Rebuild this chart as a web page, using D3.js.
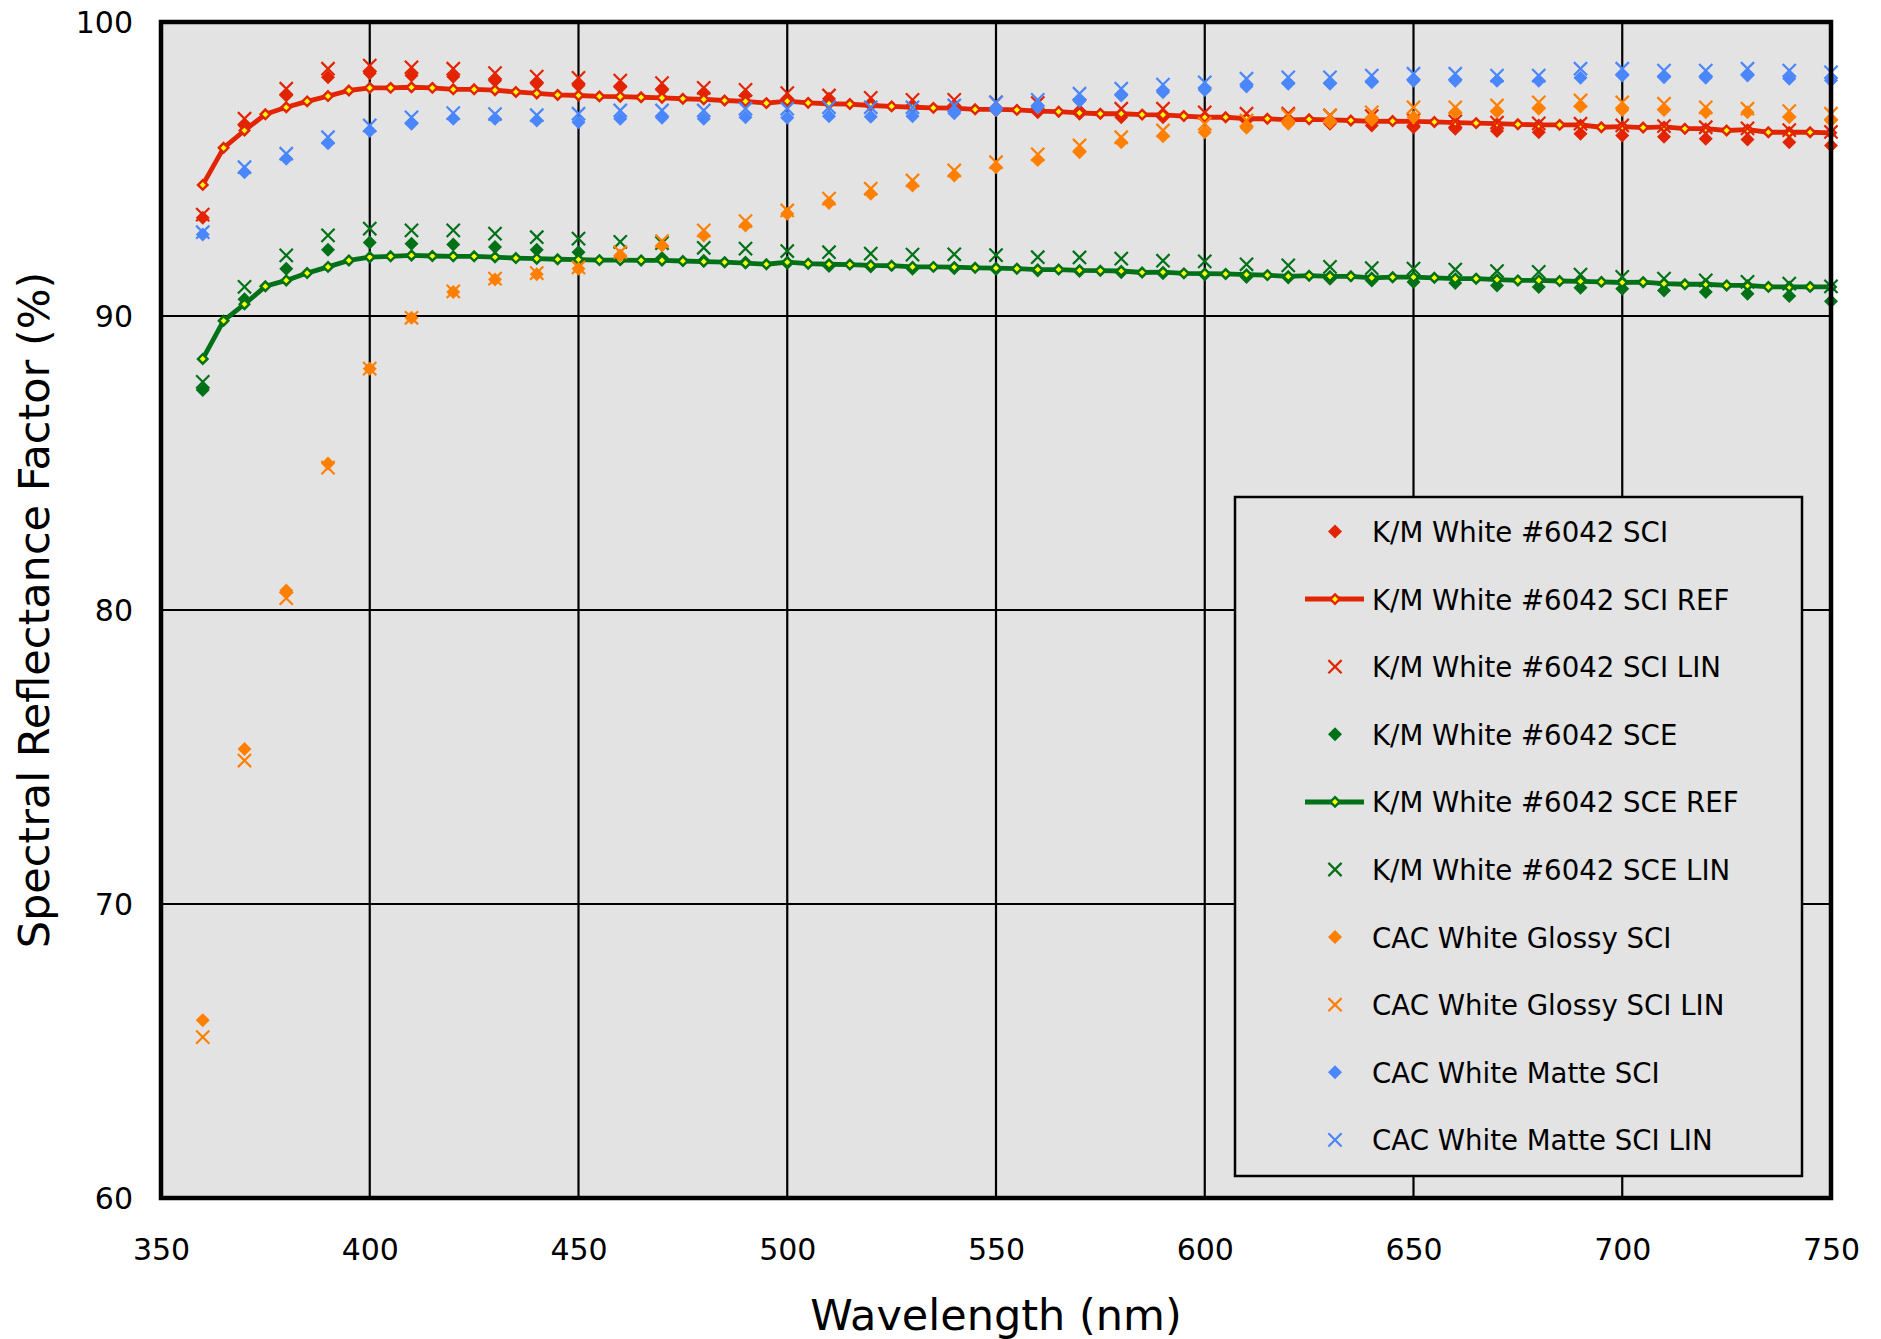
<!DOCTYPE html>
<html>
<head>
<meta charset="utf-8">
<script src="https://cdn.jsdelivr.net/npm/d3@7"></script>
<style>
  html, body { margin: 0; padding: 0; background: #ffffff; }
  svg { display: block; }
  text { font-family: "DejaVu Sans", Verdana, sans-serif; fill: #000; }
</style>
</head>
<body>
<svg id="chart" width="1881" height="1339"></svg>
<script>
// ---------------- DATA ----------------
const wavelengths = [360,370,380,390,400,410,420,430,440,450,460,470,480,490,500,510,520,530,540,550,
                     560,570,580,590,600,610,620,630,640,650,660,670,680,690,700,710,720,730,740,750];
const refWavelengths = [360,365,370,375,380,385,390,395,400,405,410,415,420,425,430,435,440,445,450,455,
                        460,465,470,475,480,485,490,495,500,505,510,515,520,525,530,535,540,545,550,555,
                        560,565,570,575,580,585,590,595,600,605,610,615,620,625,630,635,640,645,650,655,
                        660,665,670,675,680,685,690,695,700,705,710,715,720,725,730,735,740,745,750];

const kmSCI = [93.34,96.48,97.50,98.12,98.26,98.18,98.14,98.00,97.90,97.84,97.78,97.69,97.59,97.50,97.35,97.39,97.22,97.15,97.06,97.00,
               96.93,96.88,96.76,96.76,96.74,96.65,96.59,96.54,96.48,96.42,96.37,96.29,96.25,96.20,96.14,96.10,96.03,96.00,95.91,95.80];
const kmSCIref = [94.46,95.72,96.31,96.86,97.10,97.30,97.48,97.67,97.76,97.76,97.78,97.76,97.71,97.71,97.68,97.62,97.57,97.52,97.50,97.47,
                  97.46,97.44,97.42,97.39,97.37,97.33,97.30,97.24,97.31,97.25,97.22,97.21,97.16,97.13,97.10,97.08,97.07,97.03,97.03,97.01,
                  96.97,96.95,96.91,96.88,96.88,96.85,96.84,96.80,96.76,96.76,96.71,96.71,96.67,96.69,96.67,96.65,96.62,96.63,96.62,96.60,
                  96.58,96.56,96.54,96.52,96.50,96.50,96.50,96.42,96.44,96.41,96.43,96.37,96.37,96.31,96.34,96.25,96.25,96.25,96.23];
const kmSCIlin = [93.45,96.71,97.73,98.41,98.52,98.46,98.41,98.26,98.14,98.10,98.01,97.92,97.76,97.69,97.58,97.50,97.42,97.35,97.35,97.27,
                  97.24,97.16,97.05,97.05,96.93,96.88,96.88,96.82,96.80,96.66,96.62,96.58,96.55,96.54,96.48,96.46,96.42,96.38,96.32,96.26];

const kmSCE = [87.48,90.57,91.61,92.25,92.50,92.46,92.43,92.35,92.25,92.17,92.00,91.97,91.88,91.82,91.80,91.70,91.68,91.61,91.62,91.60,
               91.55,91.53,91.49,91.45,91.41,91.33,91.31,91.27,91.21,91.16,91.12,91.04,90.99,90.96,90.93,90.87,90.82,90.76,90.68,90.50];
const kmSCEref = [88.54,89.84,90.40,91.01,91.21,91.46,91.67,91.89,92.00,92.03,92.06,92.04,92.03,92.03,92.00,91.97,91.95,91.93,91.92,91.90,
                  91.90,91.89,91.89,91.87,91.85,91.83,91.80,91.76,91.83,91.78,91.76,91.75,91.72,91.71,91.67,91.67,91.66,91.64,91.63,91.61,
                  91.58,91.58,91.55,91.54,91.53,91.48,91.49,91.45,91.44,91.43,91.41,91.39,91.35,91.37,91.35,91.35,91.30,91.32,91.32,91.30,
                  91.27,91.27,91.24,91.21,91.21,91.19,91.18,91.16,91.14,91.15,91.10,91.08,91.08,91.04,91.04,90.99,90.99,90.99,90.99];
const kmSCElin = [87.76,90.99,92.06,92.74,92.97,92.91,92.91,92.80,92.68,92.63,92.52,92.48,92.32,92.29,92.21,92.17,92.12,92.09,92.10,92.07,
                  92.00,91.99,91.95,91.88,91.86,91.76,91.72,91.67,91.63,91.61,91.58,91.53,91.50,91.41,91.33,91.27,91.21,91.16,91.10,91.01];

const glossySCI = [66.05,75.27,80.66,84.98,88.21,89.94,90.82,91.24,91.42,91.61,92.06,92.40,92.74,93.08,93.48,93.84,94.16,94.44,94.78,95.06,
                   95.31,95.57,95.91,96.11,96.25,96.40,96.54,96.59,96.67,96.76,96.93,96.95,97.05,97.13,97.01,97.01,96.93,96.93,96.76,96.65];
const glossySCIlin = [65.47,74.88,80.40,84.84,88.21,89.94,90.84,91.27,91.46,91.65,92.17,92.55,92.91,93.23,93.59,93.99,94.33,94.61,94.95,95.23,
                      95.50,95.80,96.08,96.31,96.54,96.65,96.82,96.82,96.93,97.10,97.10,97.16,97.27,97.33,97.27,97.22,97.10,97.05,96.97,96.88];

const matteSCI = [92.77,94.89,95.35,95.88,96.29,96.54,96.71,96.71,96.65,96.59,96.71,96.74,96.71,96.76,96.74,96.79,96.78,96.79,96.90,97.01,
                  97.10,97.31,97.50,97.61,97.69,97.81,97.90,97.90,97.95,98.00,98.00,98.00,98.00,98.10,98.18,98.12,98.10,98.18,98.07,98.01];
const matteSCIlin = [92.85,95.06,95.52,96.08,96.48,96.76,96.90,96.87,96.83,96.88,96.99,96.99,96.99,97.05,97.05,97.10,97.10,97.10,97.16,97.27,
                     97.35,97.56,97.73,97.87,97.95,98.07,98.12,98.12,98.18,98.24,98.24,98.18,98.18,98.41,98.41,98.35,98.35,98.41,98.35,98.29];

const xTicks = [350,400,450,500,550,600,650,700,750];
const yTicks = [60,70,80,90,100];

const seriesNames = ["K/M White #6042 SCI","K/M White #6042 SCI REF","K/M White #6042 SCI LIN",
                     "K/M White #6042 SCE","K/M White #6042 SCE REF","K/M White #6042 SCE LIN",
                     "CAC White Glossy SCI","CAC White Glossy SCI LIN","CAC White Matte SCI","CAC White Matte SCI LIN"];
const seriesKinds = ["diamond","line","cross","diamond","line","cross","diamond","cross","diamond","cross"];
const seriesColors = ["#e32400","#e32400","#e32400","#017118","#017118","#017118","#ff8000","#ff8000","#4a86fc","#4a86fc"];
const seriesValues = [kmSCI,kmSCIref,kmSCIlin,kmSCE,kmSCEref,kmSCElin,glossySCI,glossySCIlin,matteSCI,matteSCIlin];

// ---------------- LAYOUT ----------------
const svg = d3.select("#chart");
const L = 161, R = 1831, T = 22, B = 1198;
const x = d3.scaleLinear().domain([350, 750]).range([L, R]);
const y = d3.scaleLinear().domain([60, 100]).range([B, T]);

// plot background
svg.append("rect").attr("x", L).attr("y", T).attr("width", R - L).attr("height", B - T)
  .attr("fill", "#e3e3e3");

// grid lines
const grid = svg.append("g");
grid.selectAll("line.v").data(xTicks.filter(d => d > 350 && d < 750)).join("line")
  .attr("x1", d => x(d)).attr("x2", d => x(d)).attr("y1", T).attr("y2", B)
  .attr("stroke", "#000").attr("stroke-width", 2.2);
grid.selectAll("line.h").data(yTicks.filter(d => d > 60 && d < 100)).join("line")
  .attr("x1", L).attr("x2", R).attr("y1", d => y(d)).attr("y2", d => y(d))
  .attr("stroke", "#000").attr("stroke-width", 2.2);

// axes (labels only)
const xAxis = svg.append("g").attr("transform", `translate(0,${B})`)
  .call(d3.axisBottom(x).tickValues(xTicks).tickSize(0).tickFormat(d3.format("d")));
xAxis.select(".domain").remove();
xAxis.selectAll("text").attr("y", 62).attr("dy", 0)
  .style("font-family", "'DejaVu Sans', Verdana, sans-serif").style("font-size", "30px").attr("fill", "#000");

const yAxis = svg.append("g").attr("transform", `translate(${L},0)`)
  .call(d3.axisLeft(y).tickValues(yTicks).tickSize(0).tickFormat(d3.format("d")));
yAxis.select(".domain").remove();
yAxis.selectAll("text").attr("x", -28).attr("dy", "0.36em")
  .style("font-family", "'DejaVu Sans', Verdana, sans-serif").style("font-size", "30px").attr("fill", "#000");

// axis titles
svg.append("text").attr("x", (L + R) / 2).attr("y", 1330).attr("text-anchor", "middle")
  .style("font-size", "43px").text("Wavelength (nm)");
svg.append("text").attr("transform", `translate(49,${(T + B) / 2}) rotate(-90)`).attr("text-anchor", "middle")
  .style("font-size", "43px").text("Spectral Reflectance Factor (%)");

// marker shapes
const diamondPath = r => `M0,${-r}L${r},0L0,${r}L${-r},0Z`;
const crossPath = r => `M${-r},${-r}L${r},${r}M${-r},${r}L${r},${-r}`;

function drawMarker(g, kind, color) {
  if (kind === "diamond") {
    g.append("path").attr("d", diamondPath(7)).attr("fill", color);
  } else if (kind === "cross") {
    g.append("path").attr("d", crossPath(6.6)).attr("fill", "none").attr("stroke", color).attr("stroke-width", 2.2);
  } else if (kind === "ref") {
    g.append("path").attr("d", diamondPath(4.7)).attr("fill", "#ffff00").attr("stroke", color).attr("stroke-width", 2.5);
  }
}

const plot = svg.append("g");
const lineGen = d3.line().x(d => x(d[0])).y(d => y(d[1]));

seriesValues.forEach((vals, i) => {
  const kind = seriesKinds[i], color = seriesColors[i];
  const g = plot.append("g");
  if (kind === "line") {
    const pts = refWavelengths.map((w, j) => [w, vals[j]]);
    g.append("path").datum(pts).attr("d", lineGen).attr("fill", "none")
      .attr("stroke", color).attr("stroke-width", 4.8).attr("stroke-linejoin", "round");
    pts.forEach(p => {
      const m = g.append("g").attr("transform", `translate(${x(p[0])},${y(p[1])})`);
      drawMarker(m, "ref", color);
    });
  } else {
    wavelengths.forEach((w, j) => {
      const m = g.append("g").attr("transform", `translate(${x(w)},${y(vals[j])})`);
      drawMarker(m, kind, color);
    });
  }
});

// plot frame
svg.append("rect").attr("x", L).attr("y", T).attr("width", R - L).attr("height", B - T)
  .attr("fill", "none").attr("stroke", "#000").attr("stroke-width", 4.5);

// legend
const lg = svg.append("g");
lg.append("rect").attr("x", 1235).attr("y", 497).attr("width", 567).attr("height", 679)
  .attr("fill", "#e3e3e3").attr("stroke", "#000").attr("stroke-width", 2.5);
seriesNames.forEach((name, i) => {
  const cy = 531.5 + i * 67.6;
  const row = lg.append("g");
  const kind = seriesKinds[i], color = seriesColors[i];
  if (kind === "line") {
    row.append("line").attr("x1", 1305).attr("x2", 1364).attr("y1", cy).attr("y2", cy)
      .attr("stroke", color).attr("stroke-width", 5);
    drawMarker(row.append("g").attr("transform", `translate(1335,${cy})`), "ref", color);
  } else {
    drawMarker(row.append("g").attr("transform", `translate(1335,${cy})`), kind, color);
  }
  row.append("text").attr("x", 1372).attr("y", cy + 10.5).style("font-size", "27.6px").text(name);
});
</script>
</body>
</html>
